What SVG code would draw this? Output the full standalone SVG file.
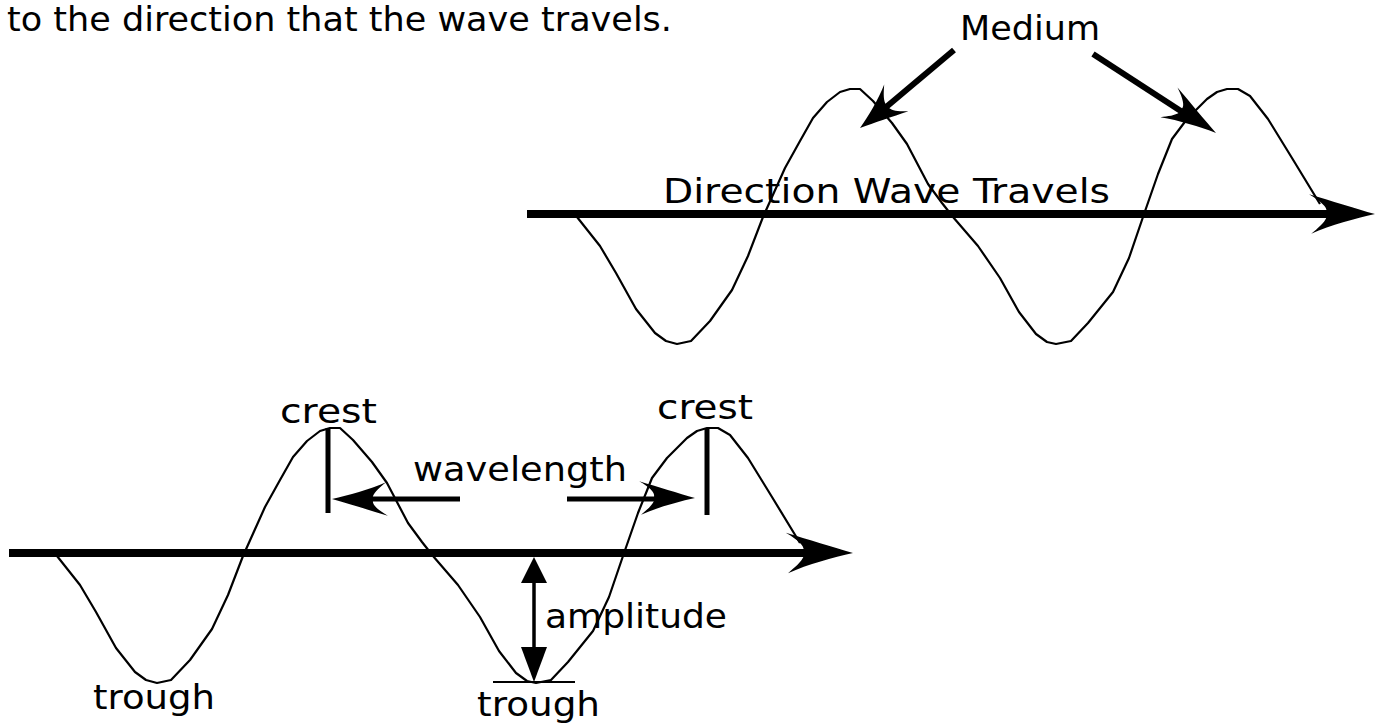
<svg xmlns="http://www.w3.org/2000/svg" xmlns:xlink="http://www.w3.org/1999/xlink" width="1380" height="727" viewBox="0 0 1380 727">
<style>
.t{font-family:"DejaVu Sans","Liberation Sans",sans-serif;font-size:34px;fill:#000}
.wave{fill:none;stroke:#000;stroke-width:2.2;stroke-linejoin:round}
.axis{stroke:#000;stroke-width:8;fill:none}
.shaft{stroke:#000;stroke-width:6;fill:none}
.thin{stroke:#000;stroke-width:5;fill:none}
.head{fill:#000}
</style>
<defs>
<path id="hd" d="M0,0 C-18,-5 -40,-12 -60,-18 C-48,-11 -44,-6 -44,-3 L-44,3 C-46,8 -52,13 -58,18 C-40,10 -18,4 0,0 Z"/>
<polyline id="wv" points="57,556 80,585 96,612 116,648 135,672 146,680 157,683 171,680 190,660 212,629 228,595 243,556 265,507 280,480 293,457 307,441 320,431 330,428 340,428 353,440 372,462 387,483 408,523 422,542 433,556 458,585 480,617 499,651 516,673 527,681 536,683 551,680 568,662 593,631 609,597 623,556 638,513 652,478 667,458 687,438 697,431 707,428 718,428 730,435 748,458 772,497 800,543"/>
</defs>
<g id="caption"><text class="t" x="7" y="31" font-size="31" textLength="665" lengthAdjust="spacingAndGlyphs">to the direction that the wave travels.</text></g>
<g id="top-wave">
<use xlink:href="#wv" class="wave" transform="translate(520,-339)"/>
<line class="axis" x1="527" y1="214" x2="1330" y2="214"/>
<use xlink:href="#hd" class="head" transform="translate(1375,214) scale(1.1)"/>
<text class="t" x="663" y="203" textLength="447" lengthAdjust="spacingAndGlyphs">Direction Wave Travels</text>
</g>
<g id="medium">
<text class="t" x="960" y="40" textLength="140" lengthAdjust="spacingAndGlyphs">Medium</text>
</g>
<g id="bottom-wave">
<use xlink:href="#wv" class="wave"/>
<line class="axis" x1="9" y1="553" x2="805" y2="553"/>
<use xlink:href="#hd" class="head" transform="translate(853,553) scale(1.12)"/>
</g>
<g id="crest1"><text class="t" x="280" y="423" textLength="97" lengthAdjust="spacingAndGlyphs">crest</text><line class="thin" x1="328" y1="428" x2="328" y2="513"/></g>
<g id="crest2"><text class="t" x="657" y="419" textLength="96" lengthAdjust="spacingAndGlyphs">crest</text><line class="thin" x1="707" y1="428" x2="707" y2="515"/></g>
<g id="wavelength"><text class="t" x="413" y="481" textLength="214" lengthAdjust="spacingAndGlyphs">wavelength</text></g>
<g id="amplitude"><text class="t" x="545" y="628" textLength="182" lengthAdjust="spacingAndGlyphs">amplitude</text></g>
<g id="trough1"><text class="t" x="93" y="709" textLength="122" lengthAdjust="spacingAndGlyphs">trough</text></g>
<g id="trough2"><text class="t" x="477" y="716" textLength="123" lengthAdjust="spacingAndGlyphs">trough</text><line stroke="#000" stroke-width="2" x1="493" y1="682" x2="575" y2="682"/></g>
<g id="connectors">
<line class="shaft" x1="954" y1="50" x2="885" y2="108"/>
<use xlink:href="#hd" class="head" transform="translate(860,128) rotate(140.3) scale(0.8,1)"/>
<line class="shaft" x1="1093" y1="54" x2="1190" y2="117"/>
<use xlink:href="#hd" class="head" transform="translate(1216,133) rotate(33) scale(0.95)"/>
<line class="thin" x1="460" y1="499" x2="370" y2="499"/>
<use xlink:href="#hd" class="head" transform="translate(332,499) rotate(180) scale(0.93)"/>
<line class="thin" x1="567" y1="499" x2="660" y2="499"/>
<use xlink:href="#hd" class="head" transform="translate(695,498) scale(0.93)"/>
<line stroke="#000" stroke-width="3.5" x1="534" y1="575" x2="534" y2="655"/>
<polygon class="head" points="534,557 521,583 547,583"/>
<polygon class="head" points="534,682 521,647 547,647"/>
</g>
</svg>
